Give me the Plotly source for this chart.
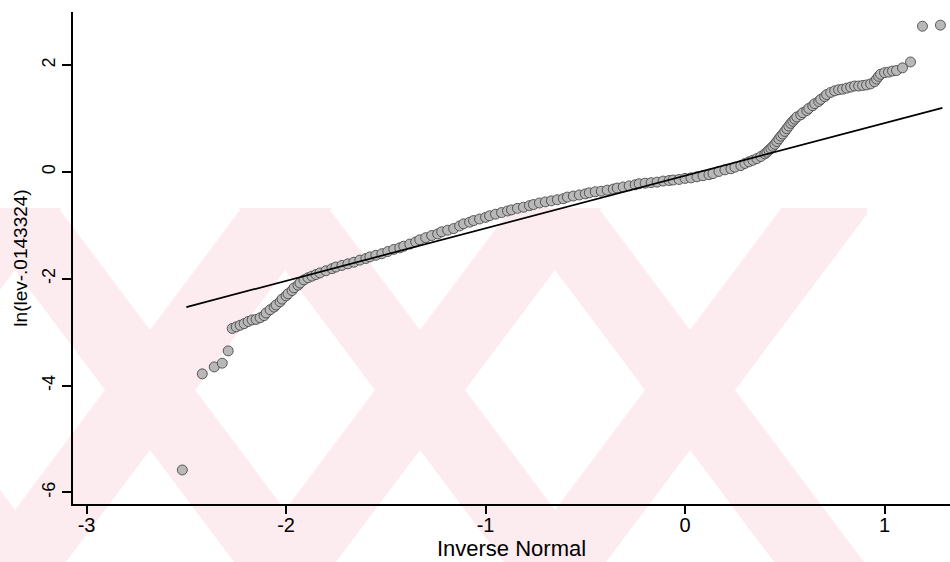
import plotly.graph_objects as go

# ---- data ----
qx = [-2.52, -2.42, -2.36, -2.32, -2.29,
      -2.27, -2.25, -2.23, -2.21, -2.19, -2.17, -2.15, -2.13, -2.11, -2.10,
      -2.08, -2.06, -2.05, -2.03, -2.02, -2.00, -1.99, -1.97, -1.96, -1.94,
      -1.93, -1.91, -1.89, -1.87, -1.85, -1.83, -1.80, -1.77, -1.75, -1.72,
      -1.69, -1.66, -1.63, -1.60, -1.58, -1.55, -1.52, -1.49, -1.46, -1.43,
      -1.41, -1.38, -1.35, -1.33, -1.30, -1.27, -1.24, -1.22, -1.19, -1.16,
      -1.13, -1.11, -1.08, -1.06, -1.03, -1.00, -0.98, -0.95, -0.92, -0.89,
      -0.87, -0.84, -0.81, -0.78, -0.76, -0.73, -0.70, -0.67, -0.64, -0.61,
      -0.59, -0.56, -0.53, -0.50, -0.48, -0.45, -0.42, -0.39, -0.36, -0.34,
      -0.31, -0.28, -0.25, -0.23, -0.20, -0.17, -0.14, -0.11, -0.08, -0.06,
      -0.03, 0.00, 0.03, 0.06, 0.09, 0.12, 0.14, 0.17, 0.20, 0.23,
      0.25, 0.28, 0.30, 0.32, 0.34, 0.36, 0.38, 0.40, 0.41, 0.42,
      0.43, 0.44, 0.45, 0.46, 0.47, 0.48, 0.49, 0.50, 0.51, 0.52,
      0.53, 0.54, 0.55, 0.56, 0.58, 0.59, 0.61, 0.62, 0.64, 0.65,
      0.67, 0.68, 0.70, 0.71, 0.73, 0.75, 0.77, 0.79, 0.81, 0.83,
      0.85, 0.87, 0.89, 0.91, 0.93, 0.95, 0.96, 0.97, 0.98, 1.00,
      1.02, 1.04, 1.06, 1.09, 1.13, 1.19, 1.28]
qy = [-5.58, -3.78, -3.65, -3.58, -3.35,
      -2.93, -2.90, -2.87, -2.84, -2.80, -2.77, -2.76, -2.73, -2.69, -2.64,
      -2.58, -2.53, -2.49, -2.43, -2.38, -2.32, -2.28, -2.22, -2.17, -2.12,
      -2.08, -2.02, -1.98, -1.95, -1.92, -1.89, -1.85, -1.81, -1.78, -1.75,
      -1.72, -1.69, -1.65, -1.62, -1.59, -1.56, -1.53, -1.49, -1.45, -1.42,
      -1.39, -1.35, -1.31, -1.27, -1.23, -1.19, -1.16, -1.12, -1.09, -1.06,
      -1.01, -0.97, -0.94, -0.91, -0.88, -0.85, -0.82, -0.79, -0.76, -0.73,
      -0.71, -0.68, -0.66, -0.63, -0.61, -0.58, -0.56, -0.54, -0.52, -0.50,
      -0.47, -0.45, -0.43, -0.41, -0.39, -0.37, -0.36, -0.34, -0.32, -0.30,
      -0.28, -0.26, -0.24, -0.22, -0.21, -0.20, -0.19, -0.17, -0.16, -0.15,
      -0.14, -0.12, -0.11, -0.09, -0.07, -0.05, -0.03, 0.01, 0.04, 0.06,
      0.09, 0.12, 0.16, 0.19, 0.22, 0.25, 0.29, 0.34, 0.37, 0.41,
      0.44, 0.48, 0.52, 0.57, 0.62, 0.67, 0.71, 0.76, 0.81, 0.86,
      0.91, 0.95, 0.99, 1.03, 1.07, 1.11, 1.15, 1.19, 1.24, 1.28,
      1.32, 1.36, 1.41, 1.45, 1.49, 1.52, 1.54, 1.55, 1.57, 1.59,
      1.61, 1.61, 1.62, 1.63, 1.65, 1.69, 1.74, 1.79, 1.83, 1.86,
      1.87, 1.89, 1.90, 1.95, 2.06, 2.73, 2.75]

fit_x = [-2.50, 1.29]
fit_y = [-2.53, 1.20]

x_ticks = [-3, -2, -1, 0, 1]
y_ticks = [-6, -4, -2, 0, 2]

x_title = "Inverse Normal"
y_title = "ln(lev-.0143324)"

# ---- figure geometry ----
W, H = 950, 562
ML, MR, MT, MB = 73, 0, 12, 58
PW, PH = W - ML - MR, H - MT - MB

fig = go.Figure()

fig.add_trace(go.Scatter(
    x=qx, y=qy, mode="markers",
    marker=dict(size=10, color="#b8b8b8", line=dict(color="#3a3a3a", width=0.8)),
    hoverinfo="skip", showlegend=False))

fig.add_trace(go.Scatter(
    x=fit_x, y=fit_y, mode="lines",
    line=dict(color="black", width=1.7),
    hoverinfo="skip", showlegend=False))

# ---- background watermark (decoration, pixel geometry) ----
def to_paper(px, py):
    return (px - ML) / PW, (H - MB - py) / PH

def clip_right(poly, xmax):
    out = []
    n = len(poly)
    for i in range(n):
        a, b = poly[i], poly[(i + 1) % n]
        ina, inb = a[0] <= xmax, b[0] <= xmax
        if ina:
            out.append(a)
        if ina != inb:
            t = (xmax - a[0]) / (b[0] - a[0])
            out.append((xmax, a[1] + t * (b[1] - a[1])))
    return out

wm_top, wm_bot, wm_right = 208, 562, 867
k, sw, cy = 0.75, 90, 390
shapes = []
for cx in [-120, 150, 420, 690]:
    for sgn in (1, -1):
        xt = cx + sgn * k * (wm_top - cy)
        xb = cx + sgn * k * (wm_bot - cy)
        poly = [(xt - sw / 2, wm_top), (xt + sw / 2, wm_top),
                (xb + sw / 2, wm_bot), (xb - sw / 2, wm_bot)]
        poly = clip_right(poly, wm_right)
        if len(poly) < 3:
            continue
        pts = [to_paper(px, py) for px, py in poly]
        path = "M " + " L ".join(f"{a:.4f},{b:.4f}" for a, b in pts) + " Z"
        shapes.append(dict(type="path", path=path, xref="paper", yref="paper",
                           fillcolor="#fcebef", line=dict(width=0), layer="below"))

font = "Liberation Sans, Arial, sans-serif"

fig.update_layout(
    width=W, height=H, autosize=False,
    margin=dict(l=ML, r=MR, t=MT, b=MB),
    paper_bgcolor="white", plot_bgcolor="rgba(0,0,0,0)",
    shapes=shapes,
    font=dict(family=font, color="black", size=17),
    xaxis=dict(range=[-3.068, 1.328], tickvals=x_ticks,
               ticktext=[str(v) for v in x_ticks],
               showline=True, linecolor="black", linewidth=2,
               ticks="outside", ticklen=8, tickwidth=2, tickcolor="black",
               ticklabelstandoff=-6,
               showgrid=False, zeroline=False,
               tickfont=dict(size=20, family=font),
               title=dict(text=x_title, font=dict(size=22, family=font), standoff=6)),
    yaxis=dict(range=[-6.217, 2.996], tickvals=y_ticks,
               ticktext=[str(v) for v in y_ticks],
               showline=True, linecolor="black", linewidth=2,
               ticks="outside", ticklen=9, tickwidth=2, tickcolor="black",
               showgrid=False, zeroline=False, tickangle=-90,
               tickfont=dict(size=18, family=font),
               title=dict(text=y_title, font=dict(size=19, family=font), standoff=6)),
)

fig.write_html("out.html")
